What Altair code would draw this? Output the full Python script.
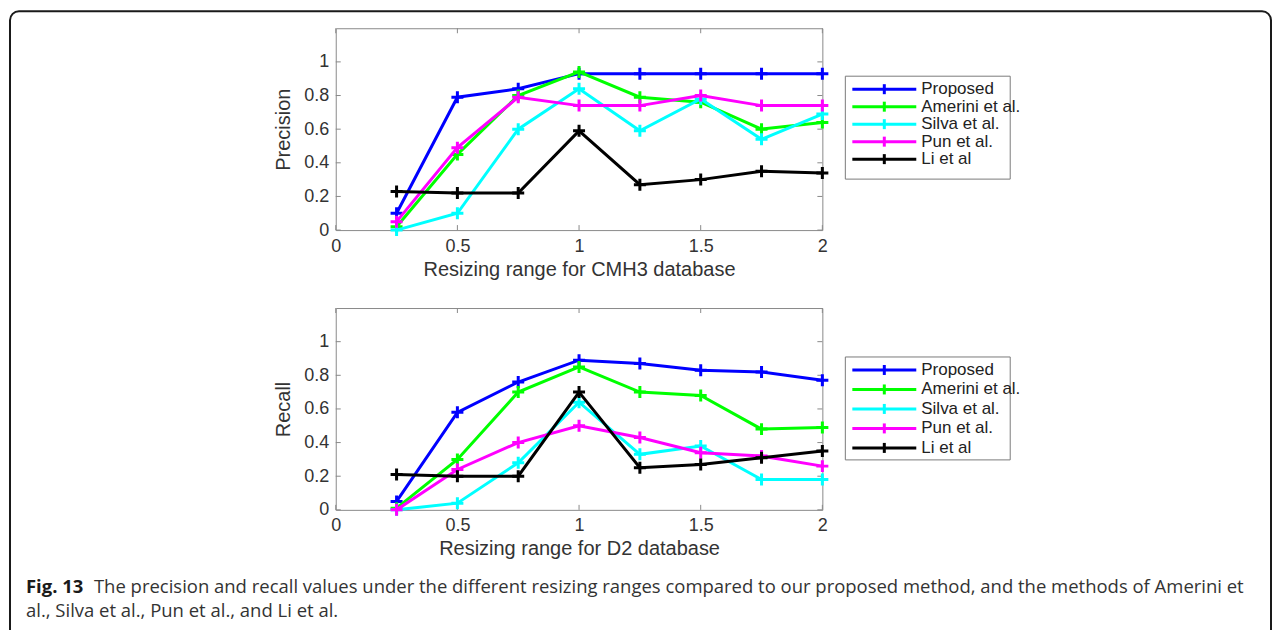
import altair as alt
import pandas as pd

# ---------------- data ----------------
series = ["Proposed", "Amerini et al.", "Silva et al.", "Pun et al.", "Li et al"]
colors = ["#0000ff", "#00ff00", "#00ffff", "#ff00ff", "#000000"]
resize = [0.25, 0.5, 0.75, 1.0, 1.25, 1.5, 1.75, 2.0]

precision_proposed = [0.10, 0.79, 0.84, 0.93, 0.93, 0.93, 0.93, 0.93]
precision_amerini = [0.02, 0.45, 0.80, 0.94, 0.79, 0.76, 0.60, 0.64]
precision_silva = [0.00, 0.10, 0.60, 0.84, 0.59, 0.78, 0.54, 0.69]
precision_pun = [0.05, 0.49, 0.79, 0.74, 0.74, 0.80, 0.74, 0.74]
precision_li = [0.23, 0.22, 0.22, 0.59, 0.27, 0.30, 0.35, 0.34]

recall_proposed = [0.05, 0.58, 0.76, 0.89, 0.87, 0.83, 0.82, 0.77]
recall_amerini = [0.01, 0.30, 0.70, 0.85, 0.70, 0.68, 0.48, 0.49]
recall_silva = [0.00, 0.04, 0.28, 0.64, 0.33, 0.38, 0.18, 0.18]
recall_pun = [0.00, 0.24, 0.40, 0.50, 0.43, 0.34, 0.32, 0.26]
recall_li = [0.21, 0.20, 0.20, 0.70, 0.25, 0.27, 0.31, 0.35]

x_ticks = [0, 0.5, 1, 1.5, 2]
y_ticks = [0, 0.2, 0.4, 0.6, 0.8, 1]

top_ylabel = "Precision"
top_xlabel = "Resizing range for CMH3 database"
bot_ylabel = "Recall"
bot_xlabel = "Resizing range for D2 database"

caption_bold = "Fig. 13"
caption_line1 = ("The precision and recall values under the different resizing ranges compared to "
                 "our proposed method, and the methods of Amerini et")
caption_line2 = "al., Silva et al., Pun et al., and Li et al."

# ---------------- styling ----------------
W, H = 487, 202
AX_FONT = "Liberation Sans"
TXT = "#333333"
BOX = "#8a8a8a"
MARK_PATH = "M-1,0H1M0,-1V1"

color_scale = alt.Scale(domain=series, range=colors)


def make_df(vals):
    rows = []
    for name, v in zip(series, vals):
        for x, y in zip(resize, v):
            rows.append({"x": x, "y": y, "series": name})
    return pd.DataFrame(rows)


def panel(df, ylabel, xlabel, extra=None):
    xs = alt.Scale(domain=[0, 2], nice=False, zero=False)
    ys = alt.Scale(domain=[0, 1.2], nice=False)
    xenc = alt.X("x:Q", scale=xs, axis=alt.Axis(
        values=x_ticks, format="~g", title=xlabel, grid=False, ticks=False, domain=False,
        labelFont=AX_FONT, labelFontSize=18, labelColor=TXT, labelPadding=7,
        titleFont=AX_FONT, titleFontSize=20, titleFontWeight="normal", titleColor=TXT,
        titlePadding=4, labelFlush=False))
    yenc = alt.Y("y:Q", scale=ys, axis=alt.Axis(
        values=y_ticks, format="~g", title=ylabel, grid=False, ticks=False, domain=False,
        labelFont=AX_FONT, labelFontSize=18, labelColor=TXT, labelPadding=7,
        titleFont=AX_FONT, titleFontSize=20, titleFontWeight="normal", titleColor=TXT,
        titlePadding=10, labelFlush=False))
    base = alt.Chart(df)
    layers = []
    # inward tick marks (MATLAB style)
    xt = alt.Chart(pd.DataFrame({"x": x_ticks}))
    yt = alt.Chart(pd.DataFrame({"y": y_ticks}))
    layers.append(xt.mark_rule(color=BOX, strokeWidth=1).encode(
        x=alt.X("x:Q", scale=xs), y=alt.value(H), y2=alt.value(H - 5)))
    layers.append(xt.mark_rule(color=BOX, strokeWidth=1).encode(
        x=alt.X("x:Q", scale=xs), y=alt.value(0), y2=alt.value(5)))
    layers.append(yt.mark_rule(color=BOX, strokeWidth=1).encode(
        y=alt.Y("y:Q", scale=ys), x=alt.value(0), x2=alt.value(5)))
    layers.append(yt.mark_rule(color=BOX, strokeWidth=1).encode(
        y=alt.Y("y:Q", scale=ys), x=alt.value(W), x2=alt.value(W - 5)))
    first = True
    for name in series:
        b = base.transform_filter(alt.datum.series == name)
        enc = dict(x=xenc if first else alt.X("x:Q", scale=xs),
                   y=yenc if first else alt.Y("y:Q", scale=ys),
                   color=alt.Color("series:N", scale=color_scale, legend=None))
        first = False
        layers.append(b.mark_line(strokeWidth=3).encode(**enc))
        layers.append(b.mark_point(shape=MARK_PATH, filled=False, size=144,
                                   strokeWidth=3, opacity=1).encode(
            x=alt.X("x:Q", scale=xs), y=alt.Y("y:Q", scale=ys),
            color=alt.Color("series:N", scale=color_scale, legend=None)))
    if extra:
        layers = extra[:1] + layers + extra[1:]
    return alt.layer(*layers).properties(
        width=W, height=H, view=alt.ViewBackground(stroke=BOX, strokeWidth=1))


def legend(box_top, box_bot, row_top, row_bot):
    d = alt.Chart(pd.DataFrame({"series": series}))
    ysc = alt.Scale(type="point", domain=series, range=[row_top, row_bot], padding=0)
    yenc = alt.Y("series:N", scale=ysc, axis=None)
    cenc = alt.Color("series:N", scale=color_scale, legend=None)
    box = alt.Chart(pd.DataFrame({"k": [0]})).mark_rect(
        fill="white", stroke="#7a7a7a", strokeWidth=1).encode(
        x=alt.value(0), x2=alt.value(165), y=alt.value(box_top), y2=alt.value(box_bot))
    line = d.mark_rule(strokeWidth=3).encode(x=alt.value(7), x2=alt.value(71), y=yenc, color=cenc)
    pt = d.mark_point(shape="M0,-1V1", filled=False, size=100, strokeWidth=3, opacity=1).encode(
        x=alt.value(39), y=yenc, color=cenc)
    txt = d.mark_text(align="left", baseline="middle", font=AX_FONT, fontSize=17,
                      color="#222222").encode(x=alt.value(76), y=yenc, text="series:N")
    return alt.layer(box, line, pt, txt).properties(
        width=165, height=H, view=alt.ViewBackground(stroke=None))


one = alt.Chart(pd.DataFrame({"k": [0]}))
border = one.mark_rect(fill=None, stroke="#1a1a1a", strokeWidth=2, cornerRadius=9).encode(
    x=alt.value(9 - 335), x2=alt.value(1271 - 335), y=alt.value(10 - 27), y2=alt.value(650 - 27))

CAP_SIZE = 18.5
cap_bold = one.mark_text(align="left", baseline="middle", font="Open Sans", fontSize=CAP_SIZE,
                         fontWeight="bold", color="#1a1a1a", text=caption_bold).encode(
    x=alt.value(25 - 335), y=alt.value(586 - 307))
cap_l1 = one.mark_text(align="left", baseline="middle", font="Open Sans", fontSize=CAP_SIZE,
                       color="#333333", text=caption_line1).encode(
    x=alt.value(93 - 335), y=alt.value(586 - 307))
cap_l2 = one.mark_text(align="left", baseline="middle", font="Open Sans", fontSize=CAP_SIZE,
                       color="#333333", text=caption_line2).encode(
    x=alt.value(25 - 335), y=alt.value(610 - 307))

top = panel(make_df([precision_proposed, precision_amerini, precision_silva, precision_pun, precision_li]),
            top_ylabel, top_xlabel, extra=[border])
bot = panel(make_df([recall_proposed, recall_amerini, recall_silva, recall_pun, recall_li]),
            bot_ylabel, bot_xlabel)
bot = alt.layer(bot, cap_bold, cap_l1, cap_l2)

chart = alt.concat(
    top, legend(48, 151, 61, 131),
    bot, legend(49, 152, 62, 140),
    columns=2, spacing={"row": 78, "column": 23}, bounds="flush",
).properties(
    padding={"left": 0, "top": 1, "right": 0, "bottom": 0},
    background="white",
)

chart.save("out.html", embed_options={"renderer": "svg", "actions": False})
